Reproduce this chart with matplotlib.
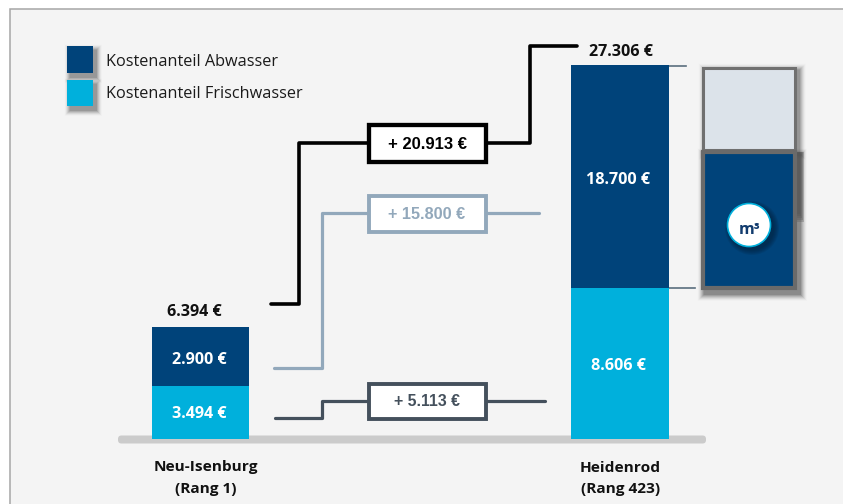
import matplotlib
matplotlib.use("Agg")
import matplotlib.pyplot as plt
from matplotlib.patches import Rectangle, Circle, FancyBboxPatch

# --- data ---
places = ["Neu-Isenburg\n(Rang 1)", "Heidenrod\n(Rang 423)"]
fresh_values = [3494, 8606]
waste_values = [2900, 18700]
totals = [6394, 27306]
# drawn segment heights: the reference's bars are schematic, not to euro scale
fresh_drawn = [53, 151]
waste_drawn = [59, 223]
legend_labels = ["Kostenanteil Abwasser", "Kostenanteil Frischwasser"]
diff_labels = ["+ 20.913 €", "+ 15.800 €", "+ 5.113 €"]

NAVY = "#00437a"
CYAN = "#00b0dc"
TXT = "Open Sans"
ARIAL = "Liberation Sans"
W, H = 843, 504


def eur(v):
    return f"{v:,} €".replace(",", ".")


fig = plt.figure(figsize=(W / 100, H / 100), dpi=100, facecolor="white")
ax = fig.add_axes([0, 0, 1, 1])
ax.set_xlim(0, W)
ax.set_ylim(H, 0)
ax.axis("off")


def shadow(x0, y0, x1, y1, dx=3, dy=3, spread=6, a=0.05, z=2, color="black"):
    for i in range(spread * 2):
        s = spread - i * 0.5
        ax.add_patch(Rectangle((x0 + dx - s, y0 + dy - s), x1 - x0 + 2 * s, y1 - y0 + 2 * s,
                               fc=color, ec="none", alpha=a * (i + 1) / (spread * 2), zorder=z))


# panel
ax.add_patch(Rectangle((9.5, 8.5), W, H, fc="#f4f4f4", ec="#a6a6a6", lw=1.1, zorder=0))

# baseline
ax.add_patch(FancyBboxPatch((118, 435.5), 588, 8, boxstyle="round,pad=0,rounding_size=3.5",
                            fc="#cbcbcb", ec="none", mutation_aspect=1, zorder=1))

# bars
base = 439
xs = [200.5, 620]
widths = [97, 98]
bot_top = [base - f for f in fresh_drawn]
ax.bar(xs, [-f for f in fresh_drawn], width=widths, bottom=base, color=CYAN, zorder=3)
ax.bar(xs, [-w for w in waste_drawn], width=widths, bottom=bot_top, color=NAVY, zorder=3)

# bar texts
kw = dict(ha="center", va="center", family=TXT, fontweight="bold", fontsize=11.6, zorder=5)
ax.text(199.5, 359.5, eur(waste_values[0]), color="white", **kw)
ax.text(199, 413.5, eur(fresh_values[0]), color="white", **kw)
ax.text(617.5, 180.5, eur(waste_values[1]), color="white", **kw)
ax.text(618, 366.5, eur(fresh_values[1]), color="white", **kw)
ax.text(194, 311.5, eur(totals[0]), color="#111111", **kw)
ax.text(620.5, 51.5, eur(totals[1]), color="#111111", **kw)
kw["fontsize"] = 11.1
for x, p in zip([205.5, 620], places):
    l1, l2 = p.split("\n")
    ax.text(x, 467.5, l1, color="#111111", **kw)
    ax.text(x + 0.5, 489, l2, color="#111111", **kw)

# legend
for y0, c, lab, ty in zip([46, 80], [NAVY, CYAN], legend_labels, [62, 94]):
    h = 27 if y0 == 46 else 26
    shadow(67, y0, 93, y0 + h, dx=3, dy=4, spread=6, a=0.07)
    ax.add_patch(Rectangle((67, y0), 26, h, fc=c, ec="none", zorder=3))
    ax.text(106, ty, lab, family=TXT, fontsize=11.7, color="#1a1a1a", va="center", ha="left", zorder=5)

# connectors
conn = [
    ("black", 2.6, [271, 299, 299, 530, 530, 577], [304, 304, 143, 143, 46, 46], (369, 125, 117, 37), 427, 144.5, 12.0),
    ("#92a8bb", 2.3, [274, 322, 322, 539], [368, 368, 213, 213], (368.5, 195.5, 117, 36), 427, 214.5, 11.7),
    ("#44505c", 2.3, [275, 322, 322, 367, 545], [418, 418, 401, 401, 401], (368.5, 383.5, 117, 35), 427, 401.5, 11.4),
]
for (c, lw, xv, yv, box, tx, ty, fs), lab in zip(conn, diff_labels):
    ax.plot(xv, yv, color=c, lw=lw, solid_capstyle="round", solid_joinstyle="round", zorder=4)
    ax.add_patch(Rectangle((box[0], box[1]), box[2], box[3], fc="white", ec=c, lw=lw + 0.5,
                           joinstyle="miter", zorder=4.5))
    ax.text(tx, ty, lab, family=ARIAL, fontweight="bold", fontsize=fs, color=c,
            ha="center", va="center", zorder=5)

# ticks towards the container
ax.plot([669, 686], [66, 66], color="#5a6e7e", lw=1.2, zorder=2)
ax.plot([669, 695], [288, 288], color="#5a6e7e", lw=1.2, zorder=2)

# container
shadow(702, 67, 796, 150, dx=3, dy=3, spread=7, a=0.06, z=1.5)
ax.add_patch(Rectangle((703, 68), 92, 82, fc="#dce3ea", ec="#707070", lw=2.2, zorder=3))
for i in range(5):
    ax.add_patch(Rectangle((797, 152), 7 - i, 70 - 2 * i, fc="#555555", ec="none", alpha=0.3, zorder=1.6))
shadow(701, 150, 797, 289, dx=3, dy=5, spread=7, a=0.07, z=1.5)
ax.add_patch(Rectangle((703, 151.5), 92, 136, fc=NAVY, ec="#6a6a6a", lw=3, zorder=3.2))
for i in range(6):
    ax.add_patch(Circle((752, 228), 27 - i, fc="#00213d", ec="none", alpha=0.14, zorder=3.4))
ax.add_patch(Circle((749, 225), 21.5, fc="white", ec=CYAN, lw=1.2, zorder=3.6))
ax.text(750, 230, "m³", family=TXT, fontweight="bold", fontsize=11.6, color="#123c6e",
        ha="center", va="center", zorder=5)

fig.savefig("out.png", dpi=100, facecolor="white")
